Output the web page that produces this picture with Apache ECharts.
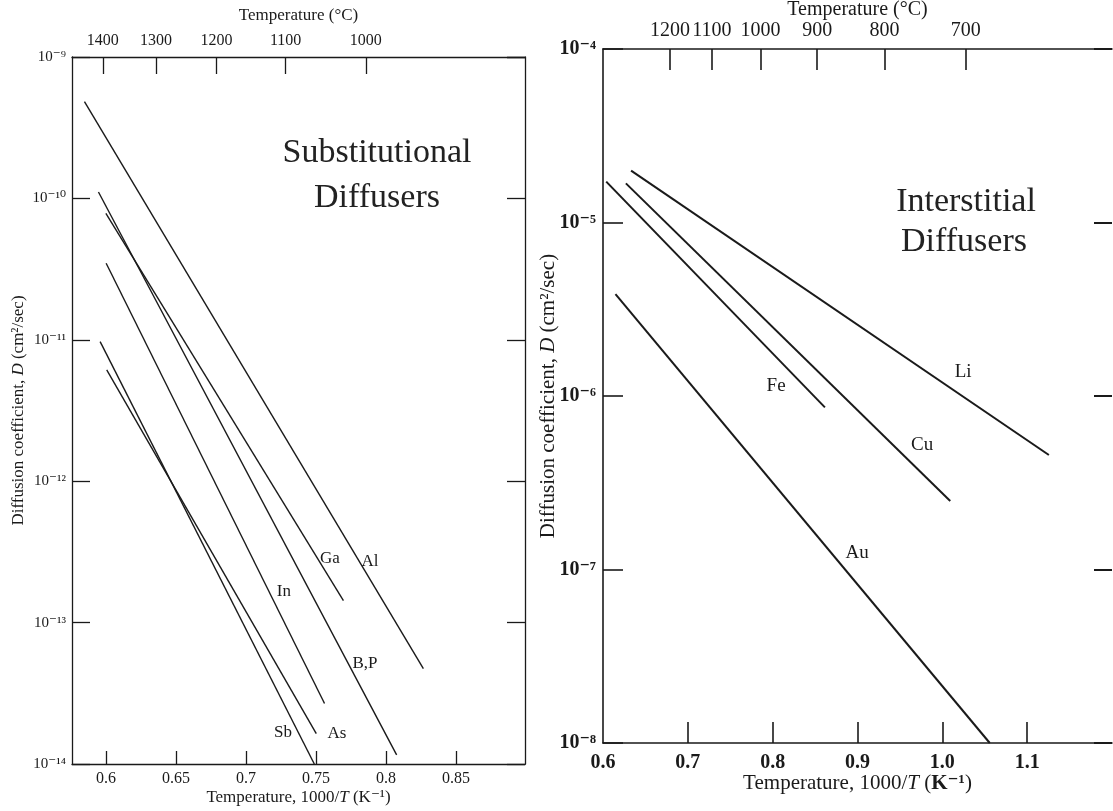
<!DOCTYPE html>
<html>
<head>
<meta charset="utf-8">
<title>Diffusion coefficients in silicon</title>
<script src="https://cdn.jsdelivr.net/npm/echarts@6.0.0/dist/echarts.min.js"></script>
<style>
  html, body { margin: 0; padding: 0; background: #fff; }
  #chart { width: 1113px; height: 811px; }
</style>
</head>
<body>
<div id="chart"></div>
<script>
// substitutional diffusers (left panel), 1000/T in K^-1, D in cm2/sec
var subNames = ['Al', 'Ga', 'B,P', 'In', 'As', 'Sb'];
var subX1 = [0.5846, 0.5999, 0.5946, 0.6001, 0.6005, 0.5958];
var subD1 = [4.83e-10, 7.85e-11, 1.11e-10, 3.48e-11, 6.12e-12, 9.7e-12];
var subX2 = [0.8267, 0.7696, 0.8076, 0.7561, 0.7502, 0.7488];
var subD2 = [4.73e-14, 1.43e-13, 1.16e-14, 2.68e-14, 1.64e-14, 1.0e-14];
var subLabelX = [0.7886, 0.7599, 0.785, 0.7271, 0.7649, 0.7264];
var subLabelD = [2.70e-13, 2.85e-13, 5.15e-14, 1.66e-13, 1.65e-14, 1.67e-14];
var subTicks = [0.6, 0.65, 0.7, 0.75, 0.8, 0.85];
var subTempsC = [1400, 1300, 1200, 1100, 1000];

// interstitial diffusers (right panel)
var intNames = ['Li', 'Cu', 'Fe', 'Au'];
var intX1 = [0.6331, 0.627, 0.6038, 0.6147];
var intD1 = [1.99e-5, 1.68e-5, 1.72e-5, 3.87e-6];
var intX2 = [1.1256, 1.0093, 0.8616, 1.0559];
var intD2 = [4.57e-7, 2.48e-7, 8.6e-7, 1.0e-8];
var intLabelX = [1.0245, 0.9762, 0.804, 0.8995];
var intLabelD = [1.38e-6, 5.22e-7, 1.14e-6, 1.245e-7];
var intTicks = [0.6, 0.7, 0.8, 0.9, 1.0, 1.1];
var intTempsC = [1200, 1100, 1000, 900, 800, 700];

var serif = '"Liberation Serif", "DejaVu Serif", serif';
var ink = '#1a1a1a';

var supMap = {'-': '\u207B', '0': '\u2070', '1': '\u00B9', '2': '\u00B2', '3': '\u00B3',
  '4': '\u2074', '5': '\u2075', '6': '\u2076', '7': '\u2077', '8': '\u2078', '9': '\u2079'};
function powLabel(v) {
  var e = String(Math.round(Math.log10(v)));
  return '10' + e.split('').map(function (c) { return supMap[c]; }).join('');
}
function invT(c) { return 1000 / (c + 273); }
function toC(v) { return String(Math.round(1000 / v - 273)); }

function nameRich(size) {
  return {
    n: { fontFamily: serif, fontSize: size, color: ink },
    i: { fontFamily: serif, fontSize: size, color: ink, fontStyle: 'italic' }
  };
}

var chart = echarts.init(document.getElementById('chart'));

var series = [];
subNames.forEach(function (n, i) {
  series.push({
    type: 'line', name: n, xAxisIndex: 0, yAxisIndex: 0,
    data: [[subX1[i], subD1[i]], [subX2[i], subD2[i]]],
    symbol: 'none', silent: true,
    lineStyle: { color: ink, width: 1.4 }
  });
});
intNames.forEach(function (n, i) {
  series.push({
    type: 'line', name: n, xAxisIndex: 2, yAxisIndex: 2,
    data: [[intX1[i], intD1[i]], [intX2[i], intD2[i]]],
    symbol: 'none', silent: true,
    lineStyle: { color: ink, width: 2 }
  });
});
series.push({
  type: 'scatter', xAxisIndex: 0, yAxisIndex: 0, symbolSize: 0, silent: true,
  itemStyle: { color: ink, opacity: 1 },
  data: subNames.map(function (n, i) { return { name: n, value: [subLabelX[i], subLabelD[i]] }; }),
  label: { show: true, position: 'inside', formatter: '{b}', fontFamily: serif, fontSize: 17, color: ink,
    opacity: 1, textBorderWidth: 0, textBorderColor: 'transparent' }
});
series.push({
  type: 'scatter', xAxisIndex: 2, yAxisIndex: 2, symbolSize: 0, silent: true,
  itemStyle: { color: ink, opacity: 1 },
  data: intNames.map(function (n, i) { return { name: n, value: [intLabelX[i], intLabelD[i]] }; }),
  label: { show: true, position: 'inside', formatter: '{b}', fontFamily: serif, fontSize: 19, color: ink,
    opacity: 1, textBorderWidth: 0, textBorderColor: 'transparent' }
});

var axisLineL = { show: true, lineStyle: { color: ink, width: 1.3 } };
var axisLineR = { show: true, lineStyle: { color: ink, width: 1.6 } };

chart.setOption({
  animation: false,
  backgroundColor: '#fff',
  grid: [
    { left: 72, top: 57, width: 453, height: 707, outerBoundsMode: 'none' },
    { left: 603, top: 49, width: 509, height: 694, outerBoundsMode: 'none' }
  ],
  xAxis: [
    {
      gridIndex: 0, type: 'value', position: 'bottom', min: 0.5757, max: 0.8993,
      axisLine: axisLineL, splitLine: { show: false },
      axisTick: { inside: true, length: 13, customValues: subTicks, lineStyle: { color: ink, width: 1.3 } },
      axisLabel: { customValues: subTicks, margin: 7, fontFamily: serif, fontSize: 16, color: ink,
        formatter: function (v) { return String(+v.toFixed(2)); } },
      name: '{n|Temperature, 1000/}{i|T}{n| (K\u207B\u00B9)}', nameLocation: 'middle', nameGap: 25,
      nameMoveOverlap: false,
      nameTextStyle: { rich: nameRich(17) }
    },
    {
      gridIndex: 0, type: 'value', position: 'top', min: 0.5757, max: 0.8993,
      axisLine: axisLineL, splitLine: { show: false },
      axisTick: { inside: true, length: 17, customValues: subTempsC.map(invT), lineStyle: { color: ink, width: 1.3 } },
      axisLabel: { customValues: subTempsC.map(invT), margin: 8, fontFamily: serif, fontSize: 16, color: ink,
        formatter: toC },
      name: 'Temperature (\u00B0C)', nameLocation: 'middle', nameGap: 33,
      nameMoveOverlap: false,
      nameTextStyle: { fontFamily: serif, fontSize: 17, color: ink }
    },
    {
      gridIndex: 1, type: 'value', position: 'bottom', min: 0.6, max: 1.2,
      axisLine: axisLineR, splitLine: { show: false },
      axisTick: { inside: true, length: 21, customValues: intTicks.slice(1), lineStyle: { color: ink, width: 1.6 } },
      axisLabel: { customValues: intTicks, margin: 10, fontFamily: serif, fontSize: 20, fontWeight: 'bold', color: ink,
        formatter: function (v) { return v.toFixed(1); } },
      name: '{n|Temperature, 1000/}{i|T}{n| (}{b|K\u207B\u00B9}{n|)}', nameLocation: 'middle', nameGap: 30,
      nameMoveOverlap: false,
      nameTextStyle: { rich: {
        n: { fontFamily: serif, fontSize: 21, color: ink },
        i: { fontFamily: serif, fontSize: 21, color: ink, fontStyle: 'italic' },
        b: { fontFamily: serif, fontSize: 21, color: ink, fontWeight: 'bold' }
      } }
    },
    {
      gridIndex: 1, type: 'value', position: 'top', min: 0.6, max: 1.2,
      axisLine: axisLineR, splitLine: { show: false },
      axisTick: { inside: true, length: 21, customValues: intTempsC.map(invT), lineStyle: { color: ink, width: 1.6 } },
      axisLabel: { customValues: intTempsC.map(invT), margin: 8, fontFamily: serif, fontSize: 20, color: ink,
        formatter: toC },
      name: 'Temperature (\u00B0C)', nameLocation: 'middle', nameGap: 29,
      nameMoveOverlap: false,
      nameTextStyle: { fontFamily: serif, fontSize: 20, color: ink }
    }
  ],
  yAxis: [
    {
      gridIndex: 0, type: 'log', logBase: 10, min: 1e-14, max: 1e-9, position: 'left',
      axisLine: axisLineL, splitLine: { show: false }, minorTick: { show: false },
      axisTick: { inside: true, length: 18, lineStyle: { color: ink, width: 1.3 } },
      axisLabel: { margin: 6, fontFamily: serif, fontSize: 15, color: ink, formatter: powLabel },
      name: '{n|Diffusion coefficient, }{i|D}{n| (cm\u00B2/sec)}', nameLocation: 'middle', nameGap: 45,
      nameMoveOverlap: false,
      nameTextStyle: { rich: nameRich(17) }
    },
    {
      gridIndex: 0, type: 'log', logBase: 10, min: 1e-14, max: 1e-9, position: 'right',
      axisLine: axisLineL, splitLine: { show: false },
      axisTick: { inside: true, length: 18, lineStyle: { color: ink, width: 1.3 } },
      axisLabel: { show: false }
    },
    {
      gridIndex: 1, type: 'log', logBase: 10, min: 1e-8, max: 1e-4, position: 'left',
      axisLine: axisLineR, splitLine: { show: false },
      axisTick: { inside: true, length: 20, lineStyle: { color: ink, width: 1.6 } },
      axisLabel: { margin: 7, fontFamily: serif, fontSize: 20, fontWeight: 'bold', color: ink, formatter: powLabel },
      name: '{n|Diffusion coefficient, }{i|D}{n| (cm\u00B2/sec)}', nameLocation: 'middle', nameGap: 44,
      nameMoveOverlap: false,
      nameTextStyle: { rich: nameRich(21) }
    },
    {
      gridIndex: 1, type: 'log', logBase: 10, min: 1e-8, max: 1e-4, position: 'right',
      axisLine: { show: false }, splitLine: { show: false },
      axisTick: { inside: true, length: 18, lineStyle: { color: ink, width: 2 } },
      axisLabel: { show: false }
    }
  ],
  graphic: [
    { type: 'text', x: 377, y: 153, style: { text: 'Substitutional', font: '34px ' + serif, fill: '#222',
      textAlign: 'center', textVerticalAlign: 'middle', align: 'center', verticalAlign: 'middle' } },
    { type: 'text', x: 377, y: 198, style: { text: 'Diffusers', font: '34px ' + serif, fill: '#222',
      textAlign: 'center', textVerticalAlign: 'middle', align: 'center', verticalAlign: 'middle' } },
    { type: 'text', x: 966, y: 202, style: { text: 'Interstitial', font: '34px ' + serif, fill: '#222',
      textAlign: 'center', textVerticalAlign: 'middle', align: 'center', verticalAlign: 'middle' } },
    { type: 'text', x: 964, y: 242, style: { text: 'Diffusers', font: '34px ' + serif, fill: '#222',
      textAlign: 'center', textVerticalAlign: 'middle', align: 'center', verticalAlign: 'middle' } }
  ],
  series: series
});
</script>
</body>
</html>
